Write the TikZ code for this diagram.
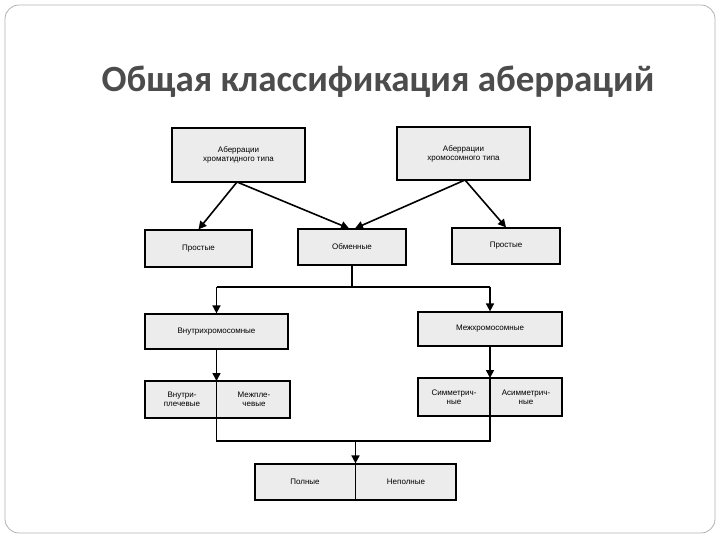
\documentclass[tikz,border=0pt]{standalone}
\usepackage{fontspec}
\setmainfont{Liberation Sans}
\newfontfamily\titlefont{Carlito}
\usetikzlibrary{arrows.meta}
\begin{document}
\begin{tikzpicture}[x=1pt,y=-1pt,
  bx/.style={draw=black,line width=1.2pt,fill=gray!15,inner sep=0pt,font=\fontsize{8}{9}\selectfont,align=center},
  ar/.style={line width=1.6pt,-{Triangle[length=8pt,width=8pt]}},
  ln/.style={line width=1.6pt}]
\useasboundingbox (0,0) rectangle (720,540);
\draw[gray!60,line width=0.8pt,rounded corners=14pt] (5,5) rectangle (715,533);
\node[font=\titlefont\bfseries\fontsize{37}{40}\selectfont,text=black!70] (t) at (378,82) {Общая классификация аберраций};
\node[bx,minimum width=133,minimum height=54] (a1) at (238.5,155) {Аберрации\\хроматидного типа};
\node[bx,minimum width=133,minimum height=53] (a2) at (463.5,153.5) {Аберрации\\хромосомного типа};
\node[bx,minimum width=107,minimum height=37] (p1) at (198.5,248.5) {Простые};
\node[bx,minimum width=108,minimum height=36] (o) at (352,247) {Обменные};
\node[bx,minimum width=108,minimum height=36] (p2) at (506,246) {Простые};
\node[bx,minimum width=143,minimum height=35] (v) at (216.5,331.5) {Внутрихромосомные};
\node[bx,minimum width=144,minimum height=34] (m) at (490,329) {Межхромосомные};
\node[bx,minimum width=145,minimum height=37] (vv) at (217.5,399.5) {};
\node[bx,minimum width=144,minimum height=38] (s) at (490,397) {};
\node[bx,minimum width=201,minimum height=36] (pn) at (355.5,482) {};
\node[font=\fontsize{8}{9}\selectfont,align=center] (vv1) at (182,399.5) {Внутри-\\плечевые};
\node[font=\fontsize{8}{9}\selectfont,align=center] (vv2) at (254,399.5) {Межпле-\\чевые};
\node[font=\fontsize{8}{9}\selectfont,align=center] (s1) at (454,397) {Симметрич-\\ные};
\node[font=\fontsize{8}{9}\selectfont,align=center] (s2) at (526,397) {Асимметрич-\\ные};
\node[font=\fontsize{8}{9}\selectfont] (pn1) at (305,482) {Полные};
\node[font=\fontsize{8}{9}\selectfont] (pn2) at (406,482) {Неполные};
\coordinate (a1b) at (237,182);
\coordinate (a2b) at (465,180);
\draw[ar] (a1b) -- (p1.north);
\draw[ar] (a1b) -- ([xshift=-3pt]o.north);
\draw[ar] (a2b) -- ([xshift=3pt]o.north);
\draw[ar] (a2b) -- (p2.north);
\coordinate (j1) at (352,287);
\coordinate (jl) at (216.5,287);
\coordinate (jr) at (490,287);
\draw[ln] (o.south) -- (j1);
\draw[ln] (jl) -- (jr);
\draw[ar] (jl) -- (v.north);
\draw[ar] (jr) -- (m.north);
\draw[ar] (v.south) -- (216.5,381);
\draw[ar] (m.south) -- (490,378);
\coordinate (bl) at (216.5,441);
\coordinate (br) at (490,441);
\coordinate (bm) at (355.5,441);
\draw[ln] (216.5,381) -- (bl) -- (br) -- (490,378);
\draw[ar] (bm) -- (pn.north);
\draw[line width=0.8pt] (pn.north) -- (pn.south);
\end{tikzpicture}
\end{document}
